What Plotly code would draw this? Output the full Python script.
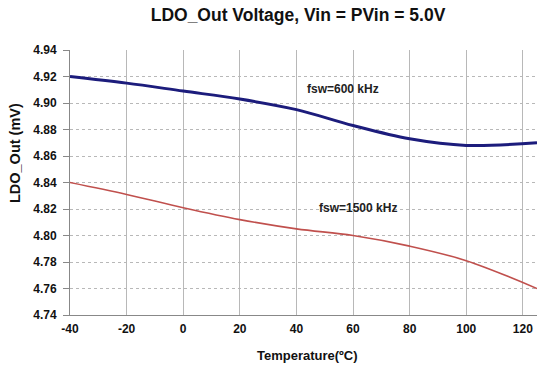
import plotly.graph_objects as go

temps = [-40, -20, 0, 20, 40, 60, 80, 100, 125]
fsw600 = [4.920, 4.915, 4.909, 4.903, 4.895, 4.883, 4.873, 4.868, 4.870]
fsw1500 = [4.840, 4.831, 4.821, 4.812, 4.805, 4.800, 4.792, 4.781, 4.760]
x_ticks = [-40, -20, 0, 20, 40, 60, 80, 100, 120]
y_ticks = [4.74, 4.76, 4.78, 4.80, 4.82, 4.84, 4.86, 4.88, 4.90, 4.92, 4.94]

fig = go.Figure()
fig.add_trace(go.Scatter(x=temps, y=fsw600, mode="lines", line=dict(color="#1c1c7c", width=3, shape="spline"), name="fsw=600 kHz"))
fig.add_trace(go.Scatter(x=temps, y=fsw1500, mode="lines", line=dict(color="#c0504d", width=1.6, shape="spline"), name="fsw=1500 kHz"))

font_b = "Liberation Sans, Arial, sans-serif"
fig.update_layout(
    width=537, height=369,
    margin=dict(l=70, r=0, t=50, b=54),
    paper_bgcolor="white", plot_bgcolor="white",
    showlegend=False,
    title=dict(text="<b>LDO_Out Voltage, Vin = PVin = 5.0V</b>", x=0.555, xanchor="center", y=0.959, yanchor="middle",
               font=dict(family=font_b, size=17.5, color="#111")),
    annotations=[
        dict(x=56.6, y=4.9105, text="<b>fsw=600 kHz</b>", showarrow=False, xanchor="center", yanchor="middle",
             font=dict(family=font_b, size=12, color="#222")),
        dict(x=61.8, y=4.8208, text="<b>fsw=1500 kHz</b>", showarrow=False, xanchor="center", yanchor="middle",
             font=dict(family=font_b, size=12, color="#222")),
        # axis titles
        dict(xref="paper", yref="paper", x=-0.1178, y=0.611, text="<b>LDO_Out (mV)</b>", textangle=-90,
             showarrow=False, xanchor="center", yanchor="middle",
             font=dict(family=font_b, size=14.5, color="#111")),
        dict(xref="paper", yref="paper", x=0.5075, y=-0.151, text="<b>Temperature(ºC)</b>",
             showarrow=False, xanchor="center", yanchor="middle",
             font=dict(family=font_b, size=13, color="#111")),
    ],
)
fig.update_xaxes(range=[-40, 125], tickvals=x_ticks, ticktext=[f"<b>{v}</b>" for v in x_ticks],
                 showgrid=True, gridcolor="#b8b8b8", gridwidth=1, automargin=False,
                 showline=True, linecolor="#888", linewidth=1, zeroline=False,
                 ticks="", ticklabelstandoff=3, tickfont=dict(family=font_b, size=12, color="#111"))
fig.update_yaxes(range=[4.74, 4.94], tickvals=y_ticks, ticktext=[f"<b>{v:.2f}</b>" for v in y_ticks],
                 showgrid=True, gridcolor="#b8b8b8", gridwidth=1, griddash="dot", automargin=False,
                 showline=True, linecolor="#888", linewidth=1, zeroline=False,
                 ticks="outside", ticklen=6, tickcolor="#888", ticklabelstandoff=4,
                 tickfont=dict(family=font_b, size=12, color="#111"))

fig.write_html("out.html", config={"displayModeBar": False}, post_script="document.body.style.margin='0';")
